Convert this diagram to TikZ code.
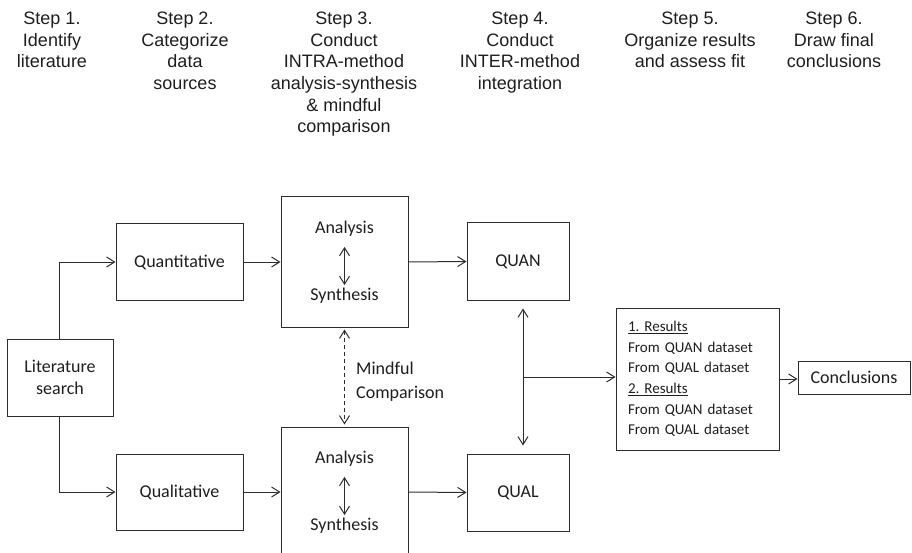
\documentclass[tikz,border=0pt]{standalone}
\usepackage{fontspec}
\setmainfont{Carlito}
\newfontfamily\headfont{Liberation Sans}
\usetikzlibrary{arrows.meta,calc}
\definecolor{ink}{RGB}{45,45,45}
\definecolor{textc}{RGB}{30,30,30}
\frenchspacing

\begin{document}
\begin{tikzpicture}[x=1pt,y=-1pt,
  hdr/.style={font=\headfont\fontsize{18}{21.6}\selectfont, align=center,
    anchor=north, inner sep=0pt, text=textc},
  box/.style={draw=ink, line width=1pt, inner sep=0pt, align=center,
    font=\fontsize{18}{22}\selectfont, text=textc},
  lbl/.style={inner sep=0pt, font=\fontsize{18}{22}\selectfont, text=textc},
  arr/.style={draw=ink, line width=1pt, -{Straight Barb[length=8pt,width=10pt]}},
  dbl/.style={draw=ink, line width=1pt,
    {Straight Barb[length=8pt,width=10pt]}-{Straight Barb[length=8pt,width=10pt]}}]

\useasboundingbox (0,0) rectangle (912,553);
\clip (0,0) rectangle (912,553);

% step headings
\node[hdr] (s1) at (52,12)  {Step 1.\\Identify\\literature};
\node[hdr] (s2) at (185,12) {Step 2.\\Categorize\\data\\sources};
\node[hdr] (s3) at (344,12) {Step 3.\\Conduct\\INTRA-method\\analysis-synthesis\\\& mindful\\comparison};
\node[hdr] (s4) at (520,12) {Step 4.\\Conduct\\INTER-method\\integration};
\node[hdr] (s5) at (690,12) {Step 5.\\Organize results\\and assess fit};
\node[hdr] (s6) at (834,12) {Step 6.\\Draw final\\conclusions};

% boxes
\node[box, minimum width=106, minimum height=77] (lit) at (60,377.5) {Literature\\search};
\node[box, minimum width=127, minimum height=76] (quant) at (179.5,262) {Quantitative};
\node[box, minimum width=127, minimum height=76] (qual) at (179.5,492) {Qualitative};
\node[box, minimum width=127, minimum height=130] (as1) at (344.5,262) {};
\node[box, minimum width=127, minimum height=130] (as2) at (344.5,492) {};
\node[box, minimum width=102, minimum height=77] (quan) at (518,261.5) {QUAN};
\node[box, minimum width=102, minimum height=77] (qualr) at (518,492.5) {QUAL};
\node[box, minimum width=163, minimum height=142, text width=139, inner xsep=12pt,
  align=left, font=\fontsize{15}{20.6}\selectfont] (res) at (697.5,379)
  {\underline{1. Results}\\From QUAN dataset\\From QUAL dataset\\\underline{2. Results}\\From QUAN dataset\\From QUAL dataset};
\node[box, minimum width=112, minimum height=33] (concl) at (854,377.5) {Conclusions};

% analysis / synthesis pairs
\node[lbl] (an1) at ($(as1.center)+(0,-33)$) {Analysis};
\node[lbl] (sy1) at ($(as1.center)+(0,34)$) {Synthesis};
\node[lbl] (an2) at ($(as2.center)+(0,-33)$) {Analysis};
\node[lbl] (sy2) at ($(as2.center)+(0,34)$) {Synthesis};
\draw[dbl, shorten <=10pt, shorten >=3pt] (an1.south) -- (sy1.north);
\draw[dbl, shorten <=10pt, shorten >=3pt] (an2.south) -- (sy2.north);

% mindful comparison
\node[lbl, anchor=west, align=left, font=\fontsize{18}{24}\selectfont] (mc) at (356,382) {Mindful\\Comparison};
\draw[dbl, dash pattern=on 4pt off 3pt, shorten <=2pt, shorten >=2pt] (as1.south) -- (as2.north);

% connectors
\draw[arr] ([xshift=-1pt]lit.north) |- (quant.west);
\draw[arr] ([xshift=-1pt]lit.south) |- (qual.west);
\draw[arr] (quant.east) -- (as1.west);
\draw[arr] (qual.east) -- (as2.west);
\draw[arr] (as1.east) -- (quan.west);
\draw[arr] (as2.east) -- (qualr.west);
\draw[dbl, shorten <=8pt, shorten >=8pt] ([xshift=5pt]quan.south) -- ([xshift=5pt]qualr.north);
\coordinate (br) at ($([xshift=5pt]quan.south)!0.5!([xshift=5pt]qualr.north)$);
\draw[arr] (br) -- (br -| res.west);
\draw[arr] (res.east) -- (res.east -| concl.west);
\end{tikzpicture}
\end{document}
